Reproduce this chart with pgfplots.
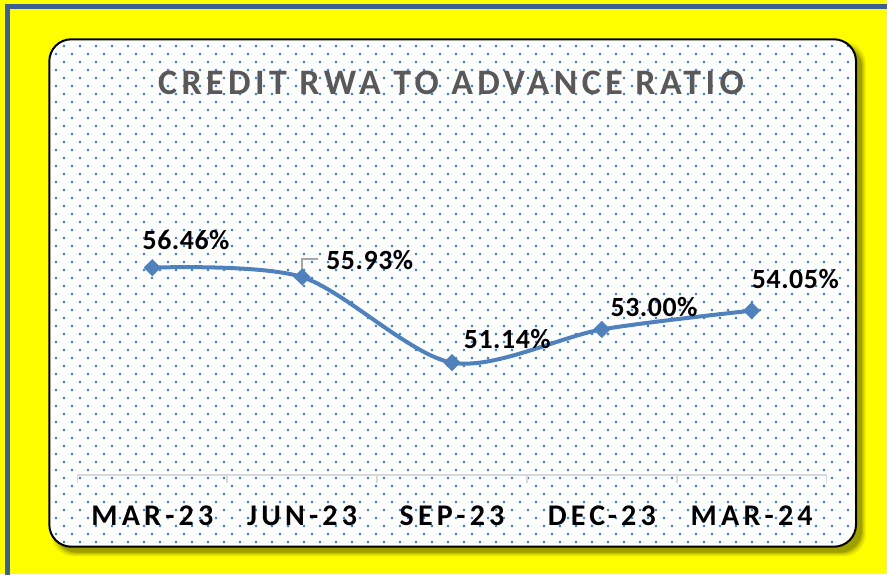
\documentclass[border=0pt]{standalone}
\usepackage{pgfplots}
\pgfplotsset{compat=1.18}
\usepackage{fontspec}
\setmainfont{Carlito}
\newfontfamily\titlefont[LetterSpace=12.5]{Carlito}
\newfontfamily\tickfont[LetterSpace=14]{Carlito}
\newfontfamily\labelfont[LetterSpace=2]{Carlito}
\usetikzlibrary{patterns}
\definecolor{ybg}{HTML}{FFFF00}
\definecolor{frameblue}{HTML}{3C6090}
\definecolor{lineblue}{HTML}{4F81BD}
\definecolor{titlegray}{HTML}{595959}
\definecolor{axisgray}{HTML}{D9D9D9}
\definecolor{leadergray}{HTML}{A6A6A6}
\pgfdeclarepatternformonly{xldots}{\pgfqpoint{-1.2pt}{-1.2pt}}{\pgfqpoint{14.8pt}{14.8pt}}{\pgfqpoint{16pt}{16pt}}{%
 \pgfpathrectangle{\pgfqpoint{-1.2pt}{-1.2pt}}{\pgfqpoint{2.4pt}{2.4pt}}%
 \pgfpathrectangle{\pgfqpoint{6.8pt}{6.8pt}}{\pgfqpoint{2.4pt}{2.4pt}}%
 \pgfusepath{fill}}
\begin{document}
\begin{tikzpicture}[x=1pt,y=1pt]
\useasboundingbox (0,0) rectangle (887,574);
\fill[ybg] (0,0) rectangle (887,574);
\draw[frameblue, line width=5pt] (7.5,-2) -- (7.5,567.5) -- (889,567.5);
\foreach \g/\o in {4/0.05,3/0.06,2/0.08,1/0.1,0/0.15} {%
  \fill[black, opacity=\o, rounded corners=22pt] (49.3+6-\g, 27.3-6-\g) rectangle (856+6+\g, 534.7-6+\g);}
\fill[white, rounded corners=22pt] (49.3,27.3) rectangle (856,534.7);
\fill[pattern=xldots, pattern color=lineblue, rounded corners=22pt] (49.3,27.3) rectangle (856,534.7);
\draw[black, line width=2pt, rounded corners=22pt] (49.3,27.3) rectangle (856,534.7);
\node[anchor=base, text=titlegray, font=\titlefont\bfseries\fontsize{35.8pt}{36pt}\selectfont] at (451pt,479.7pt) {CREDIT RWA TO ADVANCE RATIO};
\begin{axis}[
 at={(77.4pt,99pt)}, anchor=south west,
 scale only axis, width=749.2pt, height=270.6pt,
 xmin=-0.5, xmax=4.5, ymin=44.85, ymax=60,
 hide y axis, axis x line*=bottom,
 x axis line style={draw=axisgray, line width=1.5pt},
 xtick={0,1,2,3,4}, xticklabels={MAR-23,JUN-23,SEP-23,DEC-23,MAR-24},
 minor xtick={-0.5,0.5,1.5,2.5,3.5,4.5},
 major tick length=0pt, minor tick length=8pt, tick align=outside,
 minor tick style={draw=axisgray, line width=1.5pt},
 xticklabel style={font=\tickfont\bfseries\fontsize{30pt}{30pt}\selectfont, anchor=base, yshift=-50.7pt, text=black},
 clip=false,
]
\draw[leadergray, line width=1.5pt] (axis cs:1,55.93) ++(0pt,8pt) -- ++(0pt,10.3pt) -- ++(16.3pt,0pt);
\addplot[lineblue, line width=4pt, smooth, mark=square*, mark size=5.8pt,
  mark options={rotate=45, solid, fill=lineblue, draw=lineblue, line width=0.5pt}]
  coordinates {(0,56.46) (1,55.93) (2,51.14) (3,53.00) (4,54.05)};
\node[anchor=base, font=\labelfont\bfseries\fontsize{27.8pt}{28pt}\selectfont, xshift=33.7pt, yshift=17.8pt] at (axis cs:0,56.46) {56.46\%};
\node[anchor=base, font=\labelfont\bfseries\fontsize{27.8pt}{28pt}\selectfont, xshift=67.6pt, yshift=7.5pt] at (axis cs:1,55.93) {55.93\%};
\node[anchor=base, font=\labelfont\bfseries\fontsize{27.8pt}{28pt}\selectfont, xshift=55.3pt, yshift=14.6pt] at (axis cs:2,51.14) {51.14\%};
\node[anchor=base, font=\labelfont\bfseries\fontsize{27.8pt}{28pt}\selectfont, xshift=52.2pt, yshift=13.3pt] at (axis cs:3,53.00) {53.00\%};
\node[anchor=base, font=\labelfont\bfseries\fontsize{27.8pt}{28pt}\selectfont, xshift=43.7pt, yshift=21.7pt] at (axis cs:4,54.05) {54.05\%};
\end{axis}
\end{tikzpicture}
\end{document}
